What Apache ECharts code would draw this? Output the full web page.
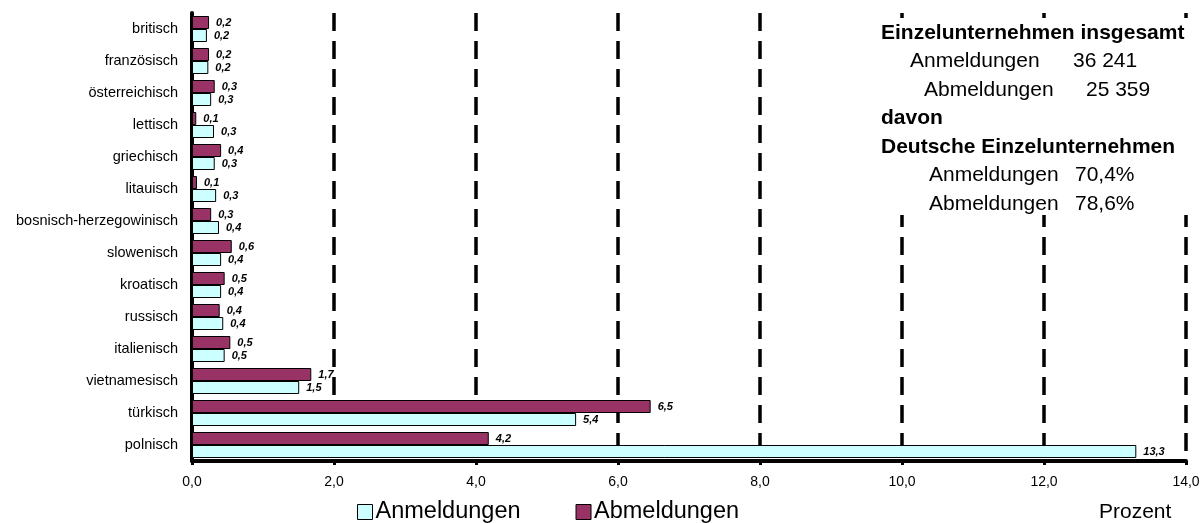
<!DOCTYPE html>
<html>
<head>
<meta charset="utf-8">
<script src="https://cdn.jsdelivr.net/npm/echarts@6/dist/echarts.min.js"></script>
<style>
html,body{margin:0;padding:0;background:#fff;}
#chart{width:1204px;height:523px;}
</style>
</head>
<body>
<div id="chart"></div>
<script>
// categories listed bottom -> top (ECharts category y axis starts at the bottom)
var categories = ['polnisch','türkisch','vietnamesisch','italienisch','russisch','kroatisch','slowenisch','bosnisch-herzegowinisch','litauisch','griechisch','lettisch','österreichisch','französisch','britisch'];
var anmeldungen = [13.3, 5.41, 1.51, 0.46, 0.44, 0.41, 0.41, 0.38, 0.34, 0.32, 0.31, 0.27, 0.23, 0.21];
var abmeldungen = [4.18, 6.46, 1.68, 0.54, 0.39, 0.46, 0.56, 0.27, 0.07, 0.41, 0.06, 0.32, 0.24, 0.24];
var xTicks = [0, 2, 4, 6, 8, 10, 12, 14];
var seriesNames = ['Anmeldungen', 'Abmeldungen'];
var boxLines = [
  {label: 'Einzelunternehmen insgesamt', value: '', bold: true},
  {label: 'Anmeldungen', value: '36 241', bold: false},
  {label: 'Abmeldungen', value: '25 359', bold: false},
  {label: 'davon', value: '', bold: true},
  {label: 'Deutsche Einzelunternehmen', value: '', bold: true},
  {label: 'Anmeldungen', value: '70,4%', bold: false},
  {label: 'Abmeldungen', value: '78,6%', bold: false}
];
var unitLabel = 'Prozent';

var FF = '"Liberation Sans", Arial, Helvetica, sans-serif';
function fmt(v){ return v.toFixed(1).replace('.', ','); }

var labelX = [881, 910, 924, 881, 881, 929, 929];
var valueX = [0, 1073, 1086, 0, 0, 1075, 1075];
var lineY = [33, 61, 90, 118, 147, 175, 204];

var graphics = [{
  type: 'rect', z: 100,
  shape: {x: 872, y: 18, width: 332, height: 197},
  style: {fill: '#ffffff'}
}];
boxLines.forEach(function(l, i){
  graphics.push({type: 'text', z: 101, style: {
    text: l.label, x: labelX[i], y: lineY[i], verticalAlign: 'middle', align: 'left',
    font: (l.bold ? 'bold ' : '') + '21px ' + FF, fill: '#000'
  }});
  if (l.value) {
    graphics.push({type: 'text', z: 101, style: {
      text: l.value, x: valueX[i], y: lineY[i], verticalAlign: 'middle', align: 'left',
      font: '21px ' + FF, fill: '#000'
    }});
  }
});
graphics.push({type: 'text', z: 101, style: {
  text: unitLabel, x: 1099, y: 512, verticalAlign: 'middle', align: 'left',
  font: '21px ' + FF, fill: '#000'
}});

var labelCfg = {
  show: true, position: 'right', distance: 7,
  fontSize: 11, fontWeight: 'bold', fontStyle: 'italic', fontFamily: FF, color: '#000',
  formatter: function(p){ return fmt(p.value); }
};

var chart = echarts.init(document.getElementById('chart'), null, {renderer: 'canvas'});
chart.setOption({
  animation: false,
  backgroundColor: '#fff',
  grid: {left: 192, right: 18, top: 13, bottom: 62, containLabel: false},
  legend: {
    data: seriesNames, left: 352, top: 495,
    itemWidth: 15, itemHeight: 15, itemGap: 55,
    icon: 'rect',
    itemStyle: {borderColor: '#000', borderWidth: 1},
    textStyle: {fontSize: 23.5, fontFamily: FF, color: '#000', padding: [0,0,0,-2]}
  },
  xAxis: {
    type: 'value', min: xTicks[0], max: xTicks[xTicks.length-1], interval: 2,
    axisLine: {show: true, lineStyle: {color: '#000', width: 4}},
    axisTick: {show: true, length: 4, lineStyle: {color: '#000', width: 3}},
    axisLabel: {formatter: fmt, fontSize: 14, fontFamily: FF, color: '#000', margin: 14},
    splitLine: {show: true, lineStyle: {color: '#000', width: 3.5, type: [18, 10]}}
  },
  yAxis: {
    type: 'category', data: categories,
    axisLine: {show: true, lineStyle: {color: '#000', width: 4}},
    axisTick: {show: false},
    axisLabel: {fontSize: 14.5, fontFamily: FF, color: '#000', margin: 14}
  },
  graphic: graphics,
  series: [
    {name: seriesNames[1], type: 'bar', data: abmeldungen, barWidth: 13, barGap: '0%',
     itemStyle: {color: '#993366', borderColor: '#000', borderWidth: 1}, label: labelCfg, z: 3},
    {name: seriesNames[0], type: 'bar', data: anmeldungen, barWidth: 13, barGap: '0%',
     itemStyle: {color: '#CCFFFF', borderColor: '#000', borderWidth: 1}, label: labelCfg, z: 3}
  ]
});
</script>
</body>
</html>
